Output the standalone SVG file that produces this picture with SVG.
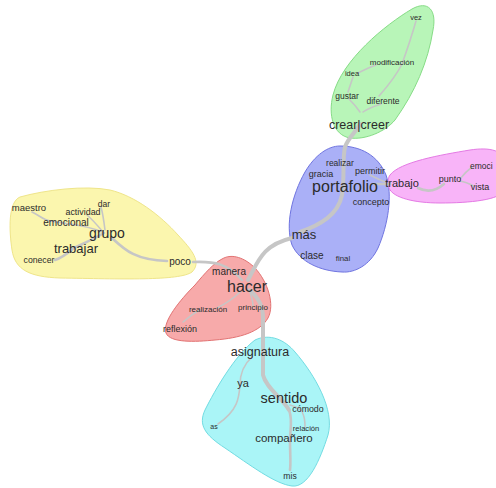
<svg xmlns="http://www.w3.org/2000/svg" width="496" height="488" viewBox="0 0 496 488">
<style>
text{font-family:"Liberation Sans",Arial,sans-serif;fill:#2b2b2b;text-anchor:middle}
.hull{stroke-width:1}
.c{fill:none;stroke:#c6c6c6;stroke-linecap:round}
.t{stroke-width:4}
.m{stroke-width:2.6}
.f{stroke-width:1.6}
</style>
<rect width="496" height="488" fill="#ffffff"/>
<g id="hulls">
<path id="hull-green" class="hull" fill="#b8f5b8" stroke="#86dc86" d="M 350,138 C 333,135 328,115 333,95 C 342,60 385,25 412,9 C 428,0 437,10 433,30 C 428,62 415,92 395,120 C 385,132 365,140 350,138 Z"/>
<path id="hull-blue" class="hull" fill="#aab0f7" stroke="#6f74e0" d="M 340,146 C 360,146 378,155 386,175 C 393,195 388,225 378,248 C 370,265 355,273 342,272 C 320,271 300,262 292,245 C 285,225 292,195 305,172 C 315,155 328,146 340,146 Z"/>
<path id="hull-pink" class="hull" fill="#f8b4f8" stroke="#e47ae4" d="M 390,175 C 400,162 440,155 470,150 C 490,147 505,150 505,165 L 505,190 C 500,200 470,203 440,203 C 415,203 393,198 389,188 C 387,182 388,178 390,175 Z"/>
<path id="hull-yellow" class="hull" fill="#fbf6ae" stroke="#efe58a" d="M 20,197 C 45,190 85,185 110,190 C 135,196 160,215 178,235 C 192,250 202,262 192,272 C 180,281 120,279 60,278 C 30,277 15,270 12,250 C 9,230 8,202 20,197 Z"/>
<path id="hull-red" class="hull" fill="#f7aaaa" stroke="#e27272" d="M 222,259 C 232,253 245,258 255,268 C 268,282 275,305 268,318 C 260,332 240,338 215,340 C 195,342 170,343 166,333 C 162,322 180,300 195,285 C 205,273 214,263 222,259 Z"/>
<path id="hull-cyan" class="hull" fill="#aaf5f7" stroke="#72dce2" d="M 255,340 C 270,333 285,340 295,352 C 315,375 335,410 328,435 C 320,460 308,488 292,486 C 275,484 250,465 225,448 C 205,435 198,425 205,410 C 215,390 235,355 255,340 Z"/>
</g>
<g id="connectors">
<path class="c t" d="M 248,280 C 258,262 262,245 292,238"/>
<path class="c t" d="M 300,232 C 320,225 338,215 342,195 C 345,175 342,160 345,147 C 348,138 356,132 360,124"/>
<path class="c t" d="M 250,290 C 258,298 263,305 263,318 L 263,375 C 266,388 282,398 289,410"/>
<path class="c m" d="M 289,410 C 293,420 290,430 290,440 C 290,455 291,462 290,470"/>
<path class="c m" d="M 193,262 C 215,261 228,264 242,280"/>
<path class="c f" d="M 252,357 C 243,365 240,375 240,385 C 239,398 238,410 218,424"/>
<path class="c f" d="M 290,405 C 298,407 302,410 303,414 C 305,418 305,422 305,427"/>
<path class="c f" d="M 240,292 C 232,300 225,304 217,308"/>
<path class="c f" d="M 200,310 C 192,314 188,318 183,322"/>
<path class="c f" d="M 250,292 C 252,298 253,302 253,306"/>
<path class="c m" d="M 112,238 C 125,250 135,260 167,261"/>
<path class="c m" d="M 55,260 C 62,258 68,253 74,248 C 82,244 92,240 104,233"/>
<path class="c f" d="M 32,212 C 40,216 44,220 50,221 C 65,224 85,224 102,232"/>
<path class="c f" d="M 87,215 C 93,220 98,226 103,232"/>
<path class="c f" d="M 101,207 C 103,214 104,222 105,230"/>
<path class="c f" d="M 360,112 C 356,106 352,102 349,99"/>
<path class="c f" d="M 363,112 C 368,108 375,106 381,104"/>
<path class="c f" d="M 348,92 C 350,86 352,80 353,77"/>
<path class="c f" d="M 358,73 C 364,70 370,67 376,65"/>
<path class="c f" d="M 416,21 C 412,35 407,50 402,64 C 395,78 386,88 379,96"/>
<path class="c m" d="M 374,184 L 390,184"/>
<path class="c f" d="M 370,175 C 376,178 380,180 385,182"/>
<path class="c m" d="M 418,188 C 428,193 436,191 444,184"/>
<path class="c f" d="M 460,179 C 464,174 468,170 472,167"/>
<path class="c f" d="M 460,181 C 466,182 470,184 474,186"/>
</g>
<g id="n-vez"><text x="416" y="20" font-size="7.5">vez</text></g>
<g id="n-modificacion"><text x="392" y="65" font-size="8">modificación</text></g>
<g id="n-idea"><text x="352" y="76" font-size="7.5">idea</text></g>
<g id="n-gustar"><text x="347" y="99" font-size="8.5">gustar</text></g>
<g id="n-diferente"><text x="383" y="104" font-size="8.5">diferente</text></g>
<g id="n-crear"><text x="359" y="128.5" font-size="12.5">crear|creer</text></g>
<g id="n-realizar"><text x="340" y="166" font-size="8.5">realizar</text></g>
<g id="n-permitir"><text x="370" y="174" font-size="9">permitir</text></g>
<g id="n-gracia"><text x="321" y="177" font-size="9">gracia</text></g>
<g id="n-portafolio"><text x="345" y="192" font-size="16">portafolio</text></g>
<g id="n-concepto"><text x="371" y="205" font-size="9">concepto</text></g>
<g id="n-mas"><text x="304" y="238.5" font-size="13">más</text></g>
<g id="n-clase"><text x="312" y="258.5" font-size="10">clase</text></g>
<g id="n-final"><text x="343" y="260.5" font-size="7.8">final</text></g>
<g id="n-trabajo"><text x="402" y="187" font-size="11">trabajo</text></g>
<g id="n-punto"><text x="450" y="182" font-size="9">punto</text></g>
<g id="n-emocion"><text x="470" y="169" font-size="8.5" style="text-anchor:start">emoci</text></g>
<g id="n-vista"><text x="480" y="190" font-size="9">vista</text></g>
<g id="n-maestro"><text x="29" y="210.5" font-size="9.5">maestro</text></g>
<g id="n-actividad"><text x="83" y="215" font-size="8.9">actividad</text></g>
<g id="n-dar"><text x="104" y="207" font-size="8.5">dar</text></g>
<g id="n-emocional"><text x="66" y="225.5" font-size="10">emocional</text></g>
<g id="n-grupo"><text x="107" y="238" font-size="14">grupo</text></g>
<g id="n-trabajar"><text x="76" y="252.5" font-size="13">trabajar</text></g>
<g id="n-conecer"><text x="39" y="263" font-size="8.7">conecer</text></g>
<g id="n-poco"><text x="180" y="264.5" font-size="10">poco</text></g>
<g id="n-manera"><text x="229" y="274.5" font-size="10">manera</text></g>
<g id="n-hacer"><text x="247" y="291.5" font-size="16">hacer</text></g>
<g id="n-realizacion"><text x="208" y="312" font-size="8">realización</text></g>
<g id="n-principio"><text x="253" y="310" font-size="8">principio</text></g>
<g id="n-reflexion"><text x="180" y="332" font-size="9">reflexión</text></g>
<g id="n-asignatura"><text x="260" y="355.5" font-size="12.5">asignatura</text></g>
<g id="n-ya"><text x="243" y="387" font-size="11">ya</text></g>
<g id="n-sentido"><text x="284" y="403" font-size="14.5">sentido</text></g>
<g id="n-comodo"><text x="308" y="412" font-size="8.8">cómodo</text></g>
<g id="n-as"><text x="214" y="428.5" font-size="7">as</text></g>
<g id="n-relacion"><text x="306" y="430.5" font-size="7.6">relación</text></g>
<g id="n-companero"><text x="284" y="442" font-size="11.5">compañero</text></g>
<g id="n-mis"><text x="290" y="479" font-size="8.6">mis</text></g>
</svg>
